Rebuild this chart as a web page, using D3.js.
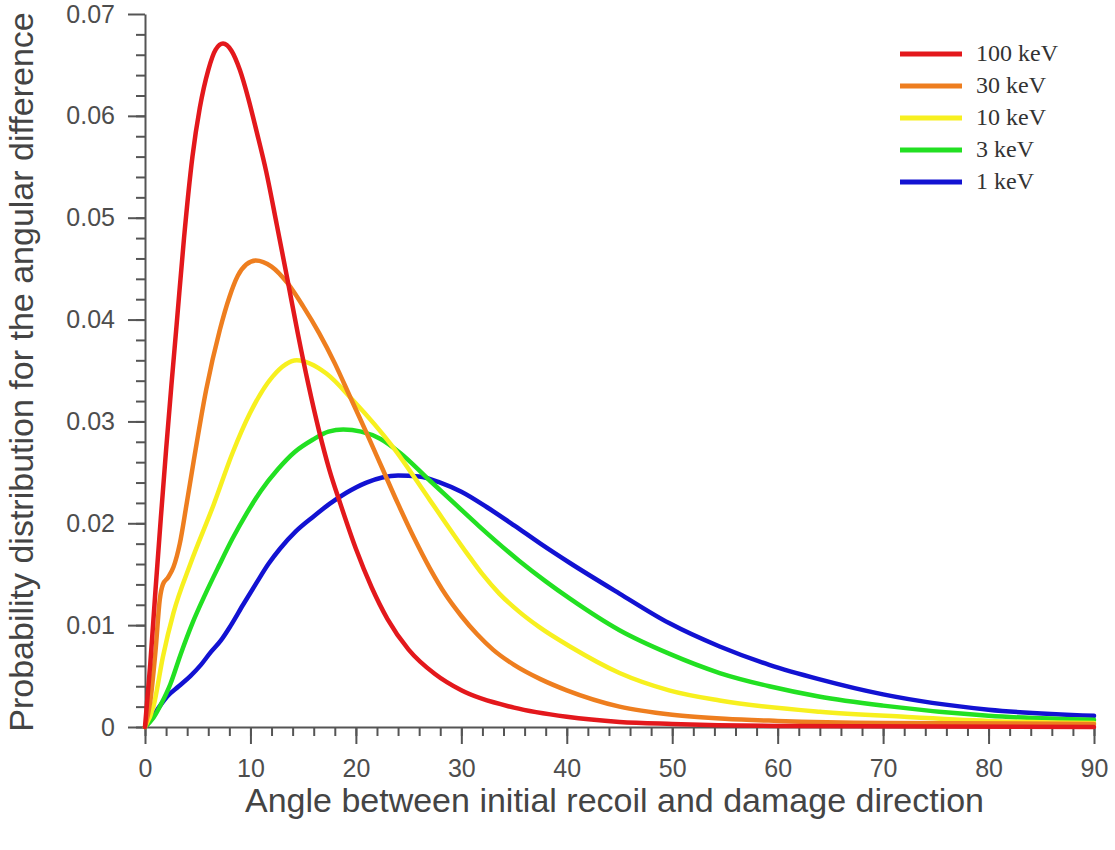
<!DOCTYPE html>
<html>
<head>
<meta charset="utf-8">
<script src="https://cdn.jsdelivr.net/npm/d3@7"></script>
<style>
  body { margin: 0; background: #fff; }
  svg { display: block; }
  .axis text { font-family: "Liberation Sans", Arial, sans-serif; font-size: 25px; fill: #4d4d4d; }
  .axis path, .axis line { stroke: #555; stroke-width: 2px; }
  .title { font-family: "Liberation Sans", Arial, sans-serif; font-size: 34px; fill: #444; }
  .legend text { font-family: "Liberation Serif", "DejaVu Serif", serif; font-size: 24px; fill: #333; }
</style>
</head>
<body>
<svg id="chart" width="1115" height="850"></svg>
<script>
// angle (deg) / probability, one pair of arrays per energy
var angle100 = [0, 0.5, 1.0, 1.5, 2.0, 2.5, 3.0, 3.7, 4.5, 5.2, 6.0, 6.7, 7.4, 8.2, 9.0, 9.8, 10.6, 11.5, 12.5, 13.5, 14.5, 15.5, 16.5, 17.5, 18.5, 20, 21.5, 23, 25, 27.5, 30, 35, 40, 45, 50, 60, 90];
var prob100  = [0, 0.0062, 0.0135, 0.0205, 0.0272, 0.0335, 0.0395, 0.0480, 0.0560, 0.0608, 0.0645, 0.0665, 0.0671, 0.0664, 0.0645, 0.0617, 0.0584, 0.0545, 0.0493, 0.0440, 0.0386, 0.0336, 0.0291, 0.0252, 0.0220, 0.0175, 0.0137, 0.0106, 0.0076, 0.0052, 0.0036, 0.0019, 0.0010, 0.0005, 0.0003, 0.0001, 0];

var angle30 = [0, 0.5, 1.0, 1.4, 1.7, 2.2, 2.7, 3.3, 3.9, 4.6, 5.8, 7.1, 8.0, 8.8, 9.6, 10.5, 12, 13.5, 15, 16.5, 18, 19.5, 21, 22.5, 24, 25.5, 27, 28.5, 30, 31.5, 33, 35, 37.5, 40, 45, 50, 55, 60, 70, 90];
var prob30  = [0, 0.0025, 0.0075, 0.0125, 0.0140, 0.0147, 0.0157, 0.0180, 0.0216, 0.0260, 0.0331, 0.0390, 0.0422, 0.0443, 0.0454, 0.0458, 0.0452, 0.0436, 0.0413, 0.0387, 0.0357, 0.0323, 0.0289, 0.0254, 0.0219, 0.0186, 0.0156, 0.0130, 0.0109, 0.0091, 0.0076, 0.0061, 0.0047, 0.0036, 0.0020, 0.0012, 0.0008, 0.0006, 0.0004, 0.0003];

var angle10 = [0, 0.8, 1.7, 2.7, 4.3, 6.5, 8.3, 9.95, 12.1, 14.4, 17.2, 19.7, 23.5, 27, 30.5, 32, 33.6, 35.5, 37.4, 40.3, 45, 49.7, 54.5, 64, 72, 80, 90];
var prob10  = [0, 0.0020, 0.0069, 0.0112, 0.0160, 0.0218, 0.0269, 0.0308, 0.0344, 0.0360, 0.0347, 0.0321, 0.0275, 0.0223, 0.0171, 0.0150, 0.0131, 0.0113, 0.0098, 0.0079, 0.0053, 0.0036, 0.0026, 0.0015, 0.0010, 0.0006, 0.0004];

var angle3 = [0, 0.8, 1.6, 2.4, 3.4, 4.5, 5.7, 7.0, 8.3, 9.6, 11.0, 12.6, 14.2, 15.9, 17.4, 18.8, 20.5, 22.3, 24.2, 27, 29.5, 31.7, 35.5, 38, 40.3, 45, 49.7, 54.5, 59.2, 63.9, 70, 80, 90];
var prob3  = [0, 0.0009, 0.0024, 0.0042, 0.0072, 0.0102, 0.0130, 0.0158, 0.0185, 0.0209, 0.0232, 0.0253, 0.0270, 0.0282, 0.0290, 0.0292, 0.0290, 0.0283, 0.0269, 0.0242, 0.0218, 0.0197, 0.0163, 0.0143, 0.0126, 0.0095, 0.0072, 0.0053, 0.0040, 0.0030, 0.0021, 0.0011, 0.0007];

var angle1 = [0, 0.6, 1.3, 2.1, 3.2, 4.3, 5.3, 6.2, 7.2, 8.1, 9.3, 10.6, 11.7, 12.8, 14.3, 15.9, 17.5, 19.1, 21, 22.5, 24, 26, 28, 30, 32.4, 35, 37.5, 40.3, 45, 49.7, 54.5, 59.2, 63.9, 70, 80, 90];
var prob1  = [0, 0.0008, 0.0019, 0.0030, 0.0040, 0.0050, 0.0061, 0.0073, 0.0085, 0.0099, 0.0120, 0.0142, 0.0160, 0.0175, 0.0192, 0.0206, 0.0219, 0.0230, 0.0240, 0.0245, 0.0247, 0.0246, 0.0240, 0.0231, 0.0216, 0.0198, 0.0180, 0.0161, 0.0131, 0.0102, 0.0079, 0.0061, 0.0047, 0.0032, 0.0017, 0.0011];

var seriesNames = ["100 keV", "30 keV", "10 keV", "3 keV", "1 keV"];
var xTicks = [0, 10, 20, 30, 40, 50, 60, 70, 80, 90];
var yTicks = [0, 0.01, 0.02, 0.03, 0.04, 0.05, 0.06, 0.07];
var yTickLabels = ["0", "0.01", "0.02", "0.03", "0.04", "0.05", "0.06", "0.07"];

var colors = ["#e3181c", "#ee7e1f", "#f7f01f", "#22e022", "#1212d2"];

var svg = d3.select("#chart");
var margin = {left: 145, top: 14, right: 21, bottom: 123};
var w = 1115 - margin.left - margin.right;
var h = 850 - margin.top - margin.bottom;

var x = d3.scaleLinear().domain([0, 90]).range([0, w]);
var y = d3.scaleLinear().domain([0, 0.07]).range([h, 0]);

var g = svg.append("g").attr("transform", "translate(" + margin.left + "," + margin.top + ")");

// minor ticks first, then the labelled ones
g.append("g").attr("class", "axis minor").attr("transform", "translate(0," + h + ")")
  .call(d3.axisBottom(x).tickValues(d3.range(0, 91, 2)).tickSize(9).tickFormat(""));
g.append("g").attr("class", "axis minor")
  .call(d3.axisLeft(y).tickValues(d3.range(0, 35).map(function(i) { return i * 0.002; })).tickSize(9).tickFormat(""));
g.selectAll(".minor path").remove();

g.append("g").attr("class", "axis").attr("transform", "translate(0," + h + ")")
  .call(d3.axisBottom(x).tickValues(xTicks).tickSize(17).tickSizeOuter(0).tickPadding(15));
g.append("g").attr("class", "axis")
  .call(d3.axisLeft(y).tickValues(yTicks).tickSize(17).tickSizeOuter(0).tickPadding(13)
    .tickFormat(function(d, i) { return yTickLabels[i]; }));

var allSeries = [
  {name: seriesNames[0], a: angle100, p: prob100, color: colors[0]},
  {name: seriesNames[1], a: angle30, p: prob30, color: colors[1]},
  {name: seriesNames[2], a: angle10, p: prob10, color: colors[2]},
  {name: seriesNames[3], a: angle3, p: prob3, color: colors[3]},
  {name: seriesNames[4], a: angle1, p: prob1, color: colors[4]}
];

var line = d3.line()
  .x(function(d) { return x(d[0]); })
  .y(function(d) { return y(d[1]); })
  .curve(d3.curveMonotoneX);

// draw low energy first so red ends on top
allSeries.slice().reverse().forEach(function(s) {
  g.append("path")
    .datum(d3.zip(s.a, s.p))
    .attr("d", line)
    .attr("fill", "none")
    .attr("stroke", s.color)
    .attr("stroke-width", 4.5)
    .attr("stroke-linejoin", "round")
    .attr("stroke-linecap", "round");
});

// legend
var legend = svg.append("g").attr("class", "legend").attr("transform", "translate(900,54)");
allSeries.forEach(function(s, i) {
  var row = legend.append("g").attr("transform", "translate(0," + (i * 32) + ")");
  row.append("line").attr("x1", 0).attr("x2", 62).attr("y1", 0).attr("y2", 0)
    .attr("stroke", s.color).attr("stroke-width", 5);
  row.append("text").attr("x", 76).attr("y", 7).text(s.name);
});

svg.append("text").attr("class", "title")
  .attr("x", margin.left + w / 2 - 5).attr("y", 812)
  .attr("text-anchor", "middle")
  .text("Angle between initial recoil and damage direction");

svg.append("text").attr("class", "title")
  .attr("transform", "translate(33," + 372 + ") rotate(-90)")
  .attr("text-anchor", "middle")
  .text("Probability distribution for the angular difference");
</script>
</body>
</html>
